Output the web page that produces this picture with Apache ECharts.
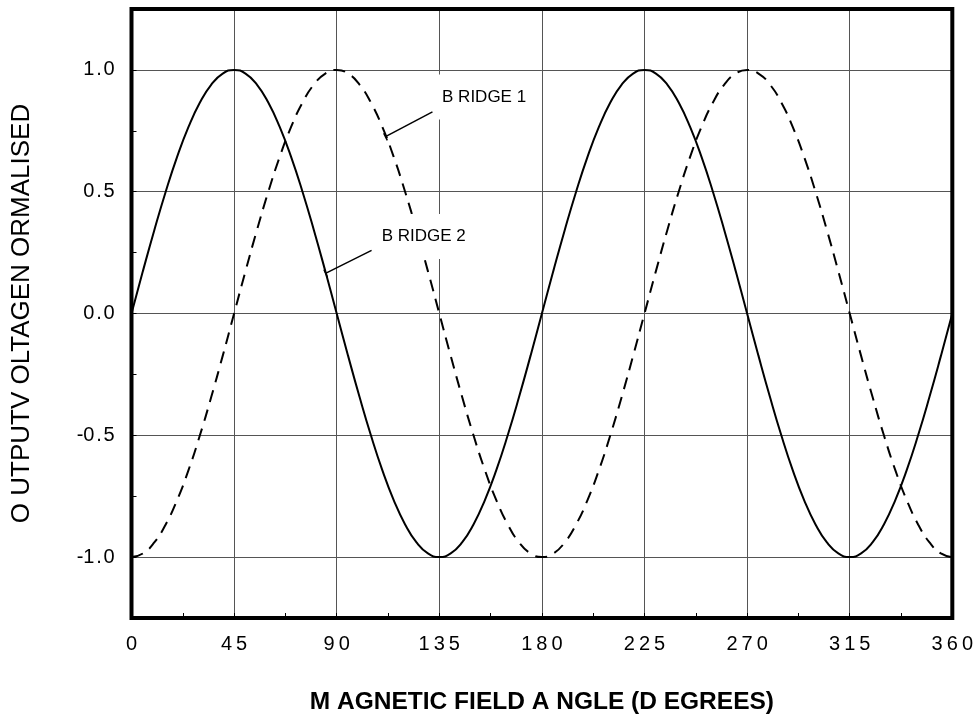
<!DOCTYPE html>
<html>
<head>
<meta charset="utf-8">
<script src="https://cdn.jsdelivr.net/npm/echarts@6/dist/echarts.min.js"></script>
<style>html,body{margin:0;padding:0;background:#fff}#c{width:976px;height:720px}</style>
</head>
<body>
<div id="c"></div>
<script>
// Magnetic field angle (degrees)
var angles = [0,5,10,15,20,25,30,35,40,45,50,55,60,65,70,75,80,85,90,95,100,105,110,115,120,125,130,135,140,145,150,155,160,165,170,175,180,185,190,195,200,205,210,215,220,225,230,235,240,245,250,255,260,265,270,275,280,285,290,295,300,305,310,315,320,325,330,335,340,345,350,355,360];
// Bridge 2 (solid)
var bridge2 = [0,0.174,0.342,0.5,0.643,0.766,0.866,0.94,0.985,1,0.985,0.94,0.866,0.766,0.643,0.5,0.342,0.174,0,-0.174,-0.342,-0.5,-0.643,-0.766,-0.866,-0.94,-0.985,-1,-0.985,-0.94,-0.866,-0.766,-0.643,-0.5,-0.342,-0.174,0,0.174,0.342,0.5,0.643,0.766,0.866,0.94,0.985,1,0.985,0.94,0.866,0.766,0.643,0.5,0.342,0.174,0,-0.174,-0.342,-0.5,-0.643,-0.766,-0.866,-0.94,-0.985,-1,-0.985,-0.94,-0.866,-0.766,-0.643,-0.5,-0.342,-0.174,0];
// Bridge 1 (dashed)
var bridge1 = [-1,-0.985,-0.94,-0.866,-0.766,-0.643,-0.5,-0.342,-0.174,0,0.174,0.342,0.5,0.643,0.766,0.866,0.94,0.985,1,0.985,0.94,0.866,0.766,0.643,0.5,0.342,0.174,0,-0.174,-0.342,-0.5,-0.643,-0.766,-0.866,-0.94,-0.985,-1,-0.985,-0.94,-0.866,-0.766,-0.643,-0.5,-0.342,-0.174,0,0.174,0.342,0.5,0.643,0.766,0.866,0.94,0.985,1,0.985,0.94,0.866,0.766,0.643,0.5,0.342,0.174,0,-0.174,-0.342,-0.5,-0.643,-0.766,-0.866,-0.94,-0.985,-1];
var xTickLabels = ['0','4\u20095','9\u20090','1\u20093\u20095','1\u20098\u20090','2\u20092\u20095','2\u20097\u20090','3\u20091\u20095','3\u20096\u20090'];
var yTickLabels = {'-1':'-1\u200a.\u200a0','-0.5':'-0\u200a.\u200a5','0':'0\u200a.\u200a0','0.5':'0\u200a.\u200a5','1':'1\u200a.\u200a0'};
var xTitle = 'M AGNETIC FIELD A NGLE (D EGREES)';
var yTitle = 'O UTPUTV OLTAGEN ORMALISED';
var label1 = 'B RIDGE 1';
var label2 = 'B RIDGE 2';

var FONT = 'Arial, "Liberation Sans", Helvetica, sans-serif';
function pairs(ys){ return angles.map(function(a,i){ return [a, ys[i]]; }); }

var chart = echarts.init(document.getElementById('c'), null, {renderer:'canvas'});
chart.setOption({
  animation:false,
  backgroundColor:'#fff',
  grid:{left:131.5, right:22.5, top:9, bottom:100, show:true, borderColor:'#000', borderWidth:4, backgroundColor:'transparent', z:3},
  xAxis:{
    type:'value', min:0, max:360, interval:45, position:'bottom',
    axisLine:{show:false, onZero:false},
    axisTick:{show:true, inside:true, length:5, lineStyle:{color:'#000'}},
    minorTick:{show:true, splitNumber:2, length:5, lineStyle:{color:'#000'}},
    splitLine:{show:true, lineStyle:{color:'#555', width:1}},
    axisLabel:{margin:16, fontSize:20, color:'#000', fontFamily:FONT,
      formatter:function(v){ return xTickLabels[Math.round(v/45)]; }},
    name:xTitle, nameLocation:'middle', nameGap:72,
    nameTextStyle:{fontSize:24.5, fontWeight:'bold', color:'#000', fontFamily:FONT}
  },
  yAxis:{
    type:'value', min:-1.25, max:1.25, interval:0.25,
    axisLine:{show:false, onZero:false},
    axisTick:{show:true, inside:true, length:5, lineStyle:{color:'#000'}},
    splitLine:{show:true, showMinLine:true, showMaxLine:true, lineStyle:{color:['rgba(0,0,0,0)','#555'], width:1}},
    axisLabel:{margin:17, fontSize:20, color:'#000', fontFamily:FONT,
      formatter:function(v){ var k = String(Math.round(v*100)/100); return yTickLabels[k] || ''; }},
    name:yTitle, nameLocation:'middle', nameGap:97, nameRotate:90,
    nameTextStyle:{fontSize:26, color:'#000', fontFamily:FONT}
  },
  series:[
    {type:'line', name:'BRIDGE 2', data:pairs(bridge2), smooth:true, showSymbol:false, symbol:'none', z:4,
     lineStyle:{color:'#000', width:2},
     markLine:{silent:true, symbol:['none','none'], label:{show:false}, lineStyle:{color:'#000', width:1.5, type:'solid'},
       data:[
         [{coord:[105.3,0.259]},{coord:[85.1,0.165]}],
         [{coord:[84.4,0.180]},{coord:[85.9,0.150]}]
       ]},
     markPoint:{silent:true, symbol:'rect', symbolSize:0, z:10,
       label:{show:true, position:'right', distance:0, formatter:label2, fontSize:17, color:'#000', fontFamily:FONT,
         backgroundColor:'#fff', padding:[14,8,14,8]},
       data:[{coord:[106.2,0.316]}]}
    },
    {type:'line', name:'BRIDGE 1', data:pairs(bridge1), smooth:true, showSymbol:false, symbol:'none', z:4,
     lineStyle:{color:'#000', width:2, type:[12,8]},
     markLine:{silent:true, symbol:['none','none'], label:{show:false}, lineStyle:{color:'#000', width:1.5, type:'solid'},
       data:[
         [{coord:[132.0,0.828]},{coord:[111.4,0.726]}],
         [{coord:[110.6,0.740]},{coord:[112.2,0.711]}]
       ]},
     markPoint:{silent:true, symbol:'rect', symbolSize:0, z:10,
       label:{show:true, position:'right', distance:0, formatter:label1, fontSize:17, color:'#000', fontFamily:FONT,
         backgroundColor:'#fff', padding:[14,8,14,8]},
       data:[{coord:[132.7,0.889]}]}
    }
  ]
});
</script>
</body>
</html>
